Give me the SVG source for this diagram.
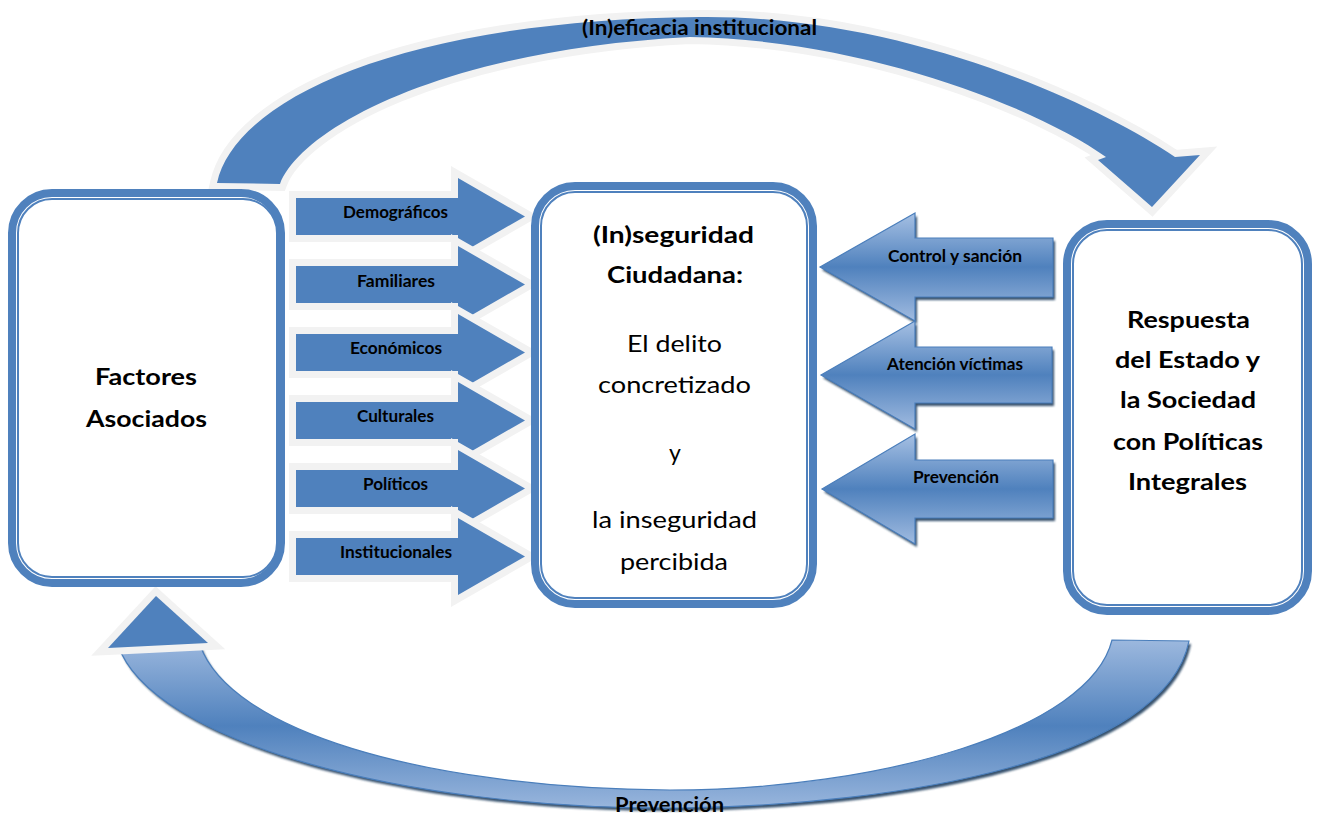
<svg xmlns="http://www.w3.org/2000/svg" width="1318" height="815" viewBox="0 0 1318 815">
  <style>
    .t { font-family: Lato, "Liberation Sans", sans-serif; font-weight: 700; fill: #000; text-anchor: middle; }
    .big { font-size: 23px; }
    .box-t { font-size: 22px; }
    .reg { font-weight: 400; }
    .sm { font-size: 17px; }
    .arc-t { font-size: 20px; }
    .flat { fill: #4f81bd; stroke: #f2f2f2; stroke-width: 14; stroke-linejoin: miter; paint-order: stroke fill; }
    .shade { fill: #23405f; opacity: 0.9; filter: url(#soft); }
    .band { stroke: #4a7ebb; stroke-width: 1.2; }
    .frame { fill: #fff; stroke: #4f81bd; stroke-width: 8; }
    .frame-in { fill: none; stroke: #4f81bd; stroke-width: 2; }
  </style>
  <defs>
    <linearGradient id="gBand" gradientUnits="userSpaceOnUse" x1="0" y1="640" x2="0" y2="812">
      <stop offset="0" stop-color="#9cb8de"/>
      <stop offset="0.5" stop-color="#4f81bd"/>
      <stop offset="1" stop-color="#9cb8de"/>
    </linearGradient>
    <linearGradient id="gLeft" x1="0" y1="0" x2="0" y2="1">
      <stop offset="0" stop-color="#a6c0e3"/>
      <stop offset="0.5" stop-color="#4f81bd"/>
      <stop offset="1" stop-color="#a0bbe0"/>
    </linearGradient>
    <filter id="soft" x="-5%" y="-5%" width="110%" height="110%">
      <feGaussianBlur stdDeviation="0.8"/>
    </filter>
  </defs>

  <g id="connectors">
    <!-- upper curved arrow -->
    <g id="arc-top">
      <path class="flat" d="M217,183 C235,100 400,20 700,17 C900,15 1090,100 1175,157 L1200,155 L1152,207 L1098,160 L1106,157 C1040,110 870,40 690,37 C440,50 300,130 280,184 Z"/>
      <text class="t arc-t" x="699.5" y="35" textLength="235" lengthAdjust="spacingAndGlyphs">(In)eficacia institucional</text>
    </g>

    <!-- lower curved arrow -->
    <g id="arc-bottom">
      <path class="shade" transform="translate(2,3)" d="M1189,641 C1165,760 900,805 680,808 C400,810 150,740 118,645 L200,645 C230,730 420,788 670,790 C880,790 1090,730 1112,640 Z"/>
      <path class="band" fill="url(#gBand)" d="M1189,641 C1165,760 900,805 680,808 C400,810 150,740 118,645 L200,645 C230,730 420,788 670,790 C880,790 1090,730 1112,640 Z"/>
      <polygon class="flat" points="108,648 208,643 156,596"/>
      <text class="t arc-t" x="669.5" y="811.5" textLength="109" lengthAdjust="spacingAndGlyphs">Prevención</text>
    </g>

    <!-- factor arrows -->
    <g id="factor-arrows">
      <polygon class="flat" points="296,198 458,198 458,178 525,216.5 458,255 458,235 296,235"/>
      <text class="t sm" x="395.5" y="218" textLength="105" lengthAdjust="spacingAndGlyphs">Demográficos</text>
      <polygon class="flat" points="296,266 458,266 458,246 525,284.5 458,323 458,303 296,303"/>
      <text class="t sm" x="396" y="286.5" textLength="78" lengthAdjust="spacingAndGlyphs">Familiares</text>
      <polygon class="flat" points="296,334 458,334 458,314 525,352.5 458,391 458,371 296,371"/>
      <text class="t sm" x="396" y="354" textLength="92" lengthAdjust="spacingAndGlyphs">Económicos</text>
      <polygon class="flat" points="296,402 458,402 458,382 525,420.5 458,459 458,439 296,439"/>
      <text class="t sm" x="395.5" y="422" textLength="77" lengthAdjust="spacingAndGlyphs">Culturales</text>
      <polygon class="flat" points="296,470 458,470 458,450 525,488.5 458,527 458,507 296,507"/>
      <text class="t sm" x="395.5" y="490" textLength="65" lengthAdjust="spacingAndGlyphs">Políticos</text>
      <polygon class="flat" points="296,538 458,538 458,518 525,556.5 458,595 458,575 296,575"/>
      <text class="t sm" x="396" y="558" textLength="112" lengthAdjust="spacingAndGlyphs">Institucionales</text>
    </g>

    <!-- response arrows -->
    <g id="response-arrows">
      <polygon class="shade" transform="translate(2,3)" points="820,267 915,213 915,238 1053,238 1053,297 915,297 915,321"/>
      <polygon class="band" fill="url(#gLeft)" points="820,267 915,213 915,238 1053,238 1053,297 915,297 915,321"/>
      <text class="t sm" x="955" y="262" textLength="134" lengthAdjust="spacingAndGlyphs">Control y sanción</text>

      <polygon class="shade" transform="translate(2,3)" points="821,375 915,321 915,347 1052,347 1052,403 915,403 915,429"/>
      <polygon class="band" fill="url(#gLeft)" points="821,375 915,321 915,347 1052,347 1052,403 915,403 915,429"/>
      <text class="t sm" x="955" y="370" textLength="136" lengthAdjust="spacingAndGlyphs">Atención víctimas</text>

      <polygon class="shade" transform="translate(2,3)" points="822,489 915,434 915,460 1053,460 1053,518 915,518 915,544"/>
      <polygon class="band" fill="url(#gLeft)" points="822,489 915,434 915,460 1053,460 1053,518 915,518 915,544"/>
      <text class="t sm" x="956" y="483" textLength="86" lengthAdjust="spacingAndGlyphs">Prevención</text>
    </g>
  </g>

  <g id="node-factores">
    <rect class="frame" x="12" y="193" width="269" height="390" rx="40"/>
    <rect class="frame-in" x="18" y="199" width="259" height="378" rx="34"/>
    <text class="t big" x="146" y="385" textLength="102" lengthAdjust="spacingAndGlyphs">Factores</text>
    <text class="t big" x="146.5" y="427" textLength="121" lengthAdjust="spacingAndGlyphs">Asociados</text>
  </g>

  <g id="node-inseguridad">
    <rect class="frame" x="535" y="186" width="278" height="418" rx="40"/>
    <rect class="frame-in" x="541" y="192" width="266" height="406" rx="34"/>
    <text class="t big" x="673.5" y="243" textLength="161" lengthAdjust="spacingAndGlyphs">(In)seguridad</text>
    <text class="t big" x="675" y="283" textLength="136" lengthAdjust="spacingAndGlyphs">Ciudadana:</text>
    <text class="t big reg" x="674.5" y="352" textLength="95" lengthAdjust="spacingAndGlyphs">El delito</text>
    <text class="t big reg" x="674.5" y="393" textLength="153" lengthAdjust="spacingAndGlyphs">concretizado</text>
    <text class="t big reg" x="675" y="461">y</text>
    <text class="t big reg" x="674.5" y="528" textLength="165" lengthAdjust="spacingAndGlyphs">la inseguridad</text>
    <text class="t big reg" x="674" y="570" textLength="108" lengthAdjust="spacingAndGlyphs">percibida</text>
  </g>

  <g id="node-respuesta">
    <rect class="frame" x="1067" y="224" width="241" height="387" rx="40"/>
    <rect class="frame-in" x="1073" y="230" width="229" height="375" rx="34"/>
    <text class="t box-t" x="1188.5" y="328" textLength="123" lengthAdjust="spacingAndGlyphs">Respuesta</text>
    <text class="t box-t" x="1187.5" y="368" textLength="145" lengthAdjust="spacingAndGlyphs">del Estado y</text>
    <text class="t box-t" x="1188" y="408" textLength="136" lengthAdjust="spacingAndGlyphs">la Sociedad</text>
    <text class="t box-t" x="1188" y="450" textLength="150" lengthAdjust="spacingAndGlyphs">con Políticas</text>
    <text class="t box-t" x="1187.5" y="490" textLength="119" lengthAdjust="spacingAndGlyphs">Integrales</text>
  </g>
</svg>
